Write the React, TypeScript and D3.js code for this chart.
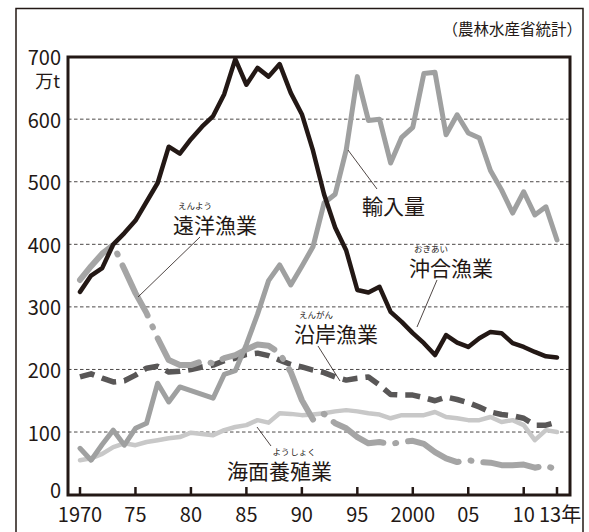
import React from 'react';
import * as d3 from 'd3';

// 年
const years = d3.range(1970, 2014);

// 万t
const offshore = [324, 350, 362, 400, 418, 438, 468, 498, 556, 545, 568, 588, 605, 640, 696, 655, 682, 668, 688, 642, 608, 550, 480, 427, 390, 327, 323, 332, 292, 276, 258, 242, 223, 255, 243, 236, 250, 260, 258, 242, 236, 228, 221, 219];
const imports = [74, 55, 80, 103, 79, 106, 114, 178, 148, 172, 166, 160, 154, 192, 198, 240, 288, 342, 367, 335, 365, 396, 466, 480, 551, 668, 598, 600, 530, 571, 587, 673, 675, 575, 607, 578, 570, 518, 487, 450, 484, 447, 460, 407];
const distant = [343, 365, 385, 399, 360, 322, 290, 250, 215, 207, 207, 213, 210, 218, 223, 232, 240, 238, 226, 196, 151, 120, 129, 114, 106, 92, 82, 84, 81, 84, 86, 81, 68, 58, 52, 55, 52, 51, 47, 47, 48, 43, 46, 40];
const coastal = [188, 193, 186, 180, 182, 191, 202, 205, 196, 197, 200, 204, 207, 214, 218, 224, 226, 222, 215, 208, 204, 199, 195, 188, 183, 186, 188, 175, 160, 159, 159, 155, 150, 156, 152, 147, 140, 132, 128, 126, 122, 111, 111, 116];
const aquaculture = [55, 58, 65, 76, 82, 79, 84, 87, 90, 92, 99, 97, 95, 103, 108, 111, 119, 115, 130, 129, 127, 128, 130, 133, 135, 133, 130, 128, 122, 127, 127, 127, 132, 124, 122, 119, 119, 124, 116, 119, 111, 87, 103, 100];

const yTicks = [0, 100, 200, 300, 400, 500, 600, 700];
const xTicks = [1970, 1975, 1980, 1985, 1990, 1995, 2000, 2005, 2010, 2013];
const xTickLabels = ['1970', '75', '80', '85', '90', '95', '2000', '05', '10', '13年'];

const FONT = '"Noto Sans CJK JP", "Noto Sans", sans-serif';

const W = 589;
const H = 532;
const frame = { left: 68, right: 570, top: 57, bottom: 495 };

const x = d3.scaleLinear().domain([1970, 2013]).range([80, 557]);
const y = d3.scaleLinear().domain([0, 700]).range([494.6, 56.6]);

const line = d3
  .line<number>()
  .x((_, i) => x(years[i]))
  .y((d) => y(d));

const series = [
  { name: 'aquaculture', values: aquaculture, color: '#c8c8c8', width: 4.5, dash: undefined as string | undefined, cap: 'round', offset: 0 },
  { name: 'coastal', values: coastal, color: '#595757', width: 5.5, dash: '15 8', cap: 'butt', offset: 0 },
  { name: 'distant', values: distant, color: '#a5a5a5', width: 6, dash: '56 12 1 12', cap: 'round', offset: 10 },
  { name: 'imports', values: imports, color: '#9fa0a0', width: 5, dash: undefined, cap: 'round', offset: 0 },
  { name: 'offshore', values: offshore, color: '#231815', width: 4.5, dash: undefined, cap: 'round', offset: 0 },
];

// 系列名ラベル（ふりがな付き）
const labels = [
  { text: '遠洋漁業', x: 173, y: 224, ruby: [{ t: 'えんよう', cx: 195 }], leader: [200, 237, 138, 297] },
  { text: '輸入量', x: 362, y: 205, ruby: [], leader: [348, 150, 377, 189] },
  { text: '沖合漁業', x: 409, y: 267, ruby: [{ t: 'おきあい', cx: 431 }], leader: [437, 280, 417, 327] },
  { text: '沿岸漁業', x: 294, y: 333, ruby: [{ t: 'えんがん', cx: 316 }], leader: [318, 346, 340, 381] },
  { text: '海面養殖業', x: 227, y: 470, ruby: [{ t: 'よう', cx: 281 }, { t: 'しょく', cx: 303 }], leader: [257, 427, 271, 446] },
];

export default function App() {
  return (
    <svg width={W} height={H} style={{ position: 'absolute', left: 0, top: 0, background: '#fff' }} fontFamily={FONT}>
      <rect x={0} y={0} width={W} height={H} fill="#fff" />
      {/* outer frame */}
      <path d={`M16,${H + 2} V8.5 H583 V${H + 2}`} fill="none" stroke="#231815" strokeWidth={1.5} />
      <text x={582} y={28} textAnchor="end" dominantBaseline="central" fontSize={15.5} fill="#231815">
        （農林水産省統計）
      </text>

      {/* grid */}
      {yTicks.filter((t) => t > 0 && t < 700).map((t) => (
        <line key={'g' + t} x1={frame.left} x2={frame.right} y1={y(t)} y2={y(t)} stroke="#4c4948" strokeWidth={1} strokeDasharray="3.5 2.5" />
      ))}

      {/* y labels */}
      {yTicks.map((t) => (
        <text key={'yl' + t} x={61} y={t === 0 ? y(t) - 5 : y(t)} textAnchor="end" dominantBaseline="central" fontSize={20} fill="#231815">
          {t}
        </text>
      ))}
      <text x={60} y={80} textAnchor="end" dominantBaseline="central" fontSize={18} fill="#231815">万t</text>

      {/* series */}
      {series.map((s) => (
        <path
          key={s.name}
          d={line(s.values) || ''}
          fill="none"
          stroke={s.color}
          strokeWidth={s.width}
          strokeDasharray={s.dash}
          strokeDashoffset={s.offset}
          strokeLinecap={s.cap as any}
          strokeLinejoin="round"
        />
      ))}

      {/* plot frame */}
      <rect x={frame.left} y={frame.top} width={frame.right - frame.left} height={frame.bottom - frame.top} fill="none" stroke="#231815" strokeWidth={3} />

      {/* x ticks */}
      {xTicks.map((t, i) => (
        <g key={'xt' + t}>
          <line x1={x(t)} x2={x(t)} y1={frame.bottom} y2={frame.bottom - 8} stroke="#231815" strokeWidth={2.5} />
          <text
            x={t === 2013 ? x(t) - 18 : x(t)}
            y={513}
            textAnchor={t === 2013 ? 'start' : 'middle'}
            dominantBaseline="central"
            fontSize={20}
            fill="#231815"
          >
            {xTickLabels[i]}
          </text>
        </g>
      ))}

      {/* labels */}
      {labels.map((l) => (
        <g key={l.text}>
          <line x1={l.leader[0]} y1={l.leader[1]} x2={l.leader[2]} y2={l.leader[3]} stroke="#231815" strokeWidth={0.8} />
          <text x={l.x} y={l.y} dominantBaseline="central" fontSize={21} fill="#231815">{l.text}</text>
          {l.ruby.map((r) => (
            <text key={r.t} x={r.cx} y={l.y - 19} textAnchor="middle" dominantBaseline="central" fontSize={8.5} fill="#231815">{r.t}</text>
          ))}
        </g>
      ))}
    </svg>
  );
}
